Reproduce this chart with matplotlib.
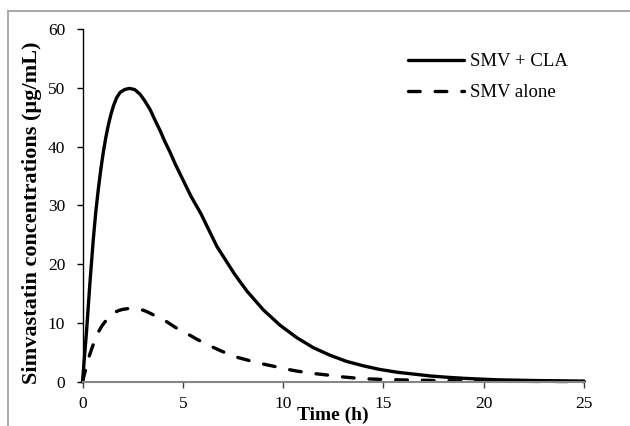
import matplotlib
matplotlib.use("Agg")
import matplotlib.pyplot as plt
from matplotlib.lines import Line2D

# Data
time_cla = [0, 0.1, 0.2, 0.37, 0.54, 0.66, 0.79, 0.92, 1.04, 1.16, 1.29, 1.42, 1.54, 1.7,
            1.87, 2.1, 2.34, 2.6, 2.87, 3.1, 3.37, 3.6, 3.87, 4.1, 4.37, 4.6, 4.87, 5.4,
            5.9, 6.3, 6.7, 7.15, 7.6, 8.2, 9.02, 9.85, 10.68, 11.5, 12.34, 13.17, 14.0,
            14.8, 15.7, 16.5, 17.35, 18.2, 19.0, 19.8, 20.7, 22.5, 25]
conc_cla = [0, 4.3, 8.5, 16.8, 24.3, 28.8, 32.8, 36.3, 39.1, 41.5, 43.7, 45.5, 46.9, 48.3,
            49.2, 49.7, 49.9, 49.7, 48.9, 47.8, 46.3, 44.6, 42.7, 40.9, 39.0, 37.2, 35.3, 31.6,
            28.6, 25.8, 23.0, 20.6, 18.2, 15.4, 12.2, 9.6, 7.5, 5.8, 4.5, 3.45, 2.7,
            2.1, 1.6, 1.3, 0.97, 0.75, 0.58, 0.45, 0.32, 0.2, 0.1]

time_alone = [0, 0.15, 0.3, 0.5, 0.65, 0.8, 0.95, 1.1, 1.35, 1.6, 1.8, 2.0, 2.4, 2.65, 2.9,
              3.15, 3.4, 3.8, 4.2, 4.6, 5.2, 5.77, 6.35, 6.93, 7.6, 8.2, 8.87, 9.5, 10.15,
              10.7, 11.5, 12.2, 12.85, 13.5, 14.2, 15.0, 16, 18, 20, 22.5, 25]
conc_alone = [0, 2.0, 4.0, 6.0, 7.3, 8.5, 9.4, 10.1, 11.1, 11.8, 12.1, 12.3, 12.5, 12.45, 12.3,
              12.0, 11.6, 10.9, 10.2, 9.3, 8.2, 7.1, 6.1, 5.2, 4.25, 3.7, 3.1, 2.65, 2.15,
              1.8, 1.4, 1.14, 0.85, 0.65, 0.48, 0.38, 0.3, 0.18, 0.1, 0.05, 0.03]

labels = ["SMV + CLA", "SMV alone"]
x_ticks = [0, 5, 10, 15, 20, 25]
y_ticks = [0, 10, 20, 30, 40, 50, 60]

plt.rcParams['font.family'] = ['Liberation Serif', 'DejaVu Serif']

W, H = 630, 426
fig = plt.figure(figsize=(W / 100, H / 100), dpi=100)
ax = fig.add_axes([82.5 / W, 1 - 381.7 / H, (584 - 82.5) / W, (381.7 - 29) / H])

lw = 2.4
ax.plot(time_cla, conc_cla, color='black', lw=lw, solid_capstyle='round',
        solid_joinstyle='round', label=labels[0], clip_on=False)
ax.plot(time_alone, conc_alone, color='black', lw=lw, dashes=(3.5, 4.5),
        dash_capstyle='round', dash_joinstyle='round', label=labels[1], clip_on=False)

ax.set_xlim(0, 25)
ax.set_ylim(0, 60)
ax.set_xticks(x_ticks)
ax.set_yticks(y_ticks)
ax.tick_params(axis='both', direction='out', length=4.5, width=1, labelsize=12.5)
ax.tick_params(axis='x', pad=6, color='#404040')
ax.tick_params(axis='y', pad=8, color='black')

for s in ['top', 'right']:
    ax.spines[s].set_visible(False)
ax.spines['bottom'].set_color('#868686')
ax.spines['bottom'].set_linewidth(1.5)
ax.spines['left'].set_color('black')
ax.spines['left'].set_linewidth(1)

ax.set_xlabel("Time (h)", fontsize=14, fontweight='bold', va='top')
ax.xaxis.set_label_coords(0.5, (381.7 - 407) / 352.7)
ax.set_ylabel("Simvastatin concentrations (µg/mL)", fontsize=16, fontweight='bold', va='center')
ax.yaxis.set_label_coords((32.5 - 82.5) / 501.5, (381.7 - 213) / 352.7)

leg = ax.legend(loc='upper left', bbox_to_anchor=((408 - 82.5) / 501.5, (381.7 - 53) / 352.7),
                frameon=False, fontsize=13.5, handlelength=3.0, handletextpad=0.3,
                labelspacing=0.75, borderpad=0, borderaxespad=0)

# outer border (top and left visible in the reference)
fig.add_artist(Line2D([8.3 / W, 1], [1 - 10.7 / H, 1 - 10.7 / H], color='#9a9a9a', lw=1.2,
                      transform=fig.transFigure))
fig.add_artist(Line2D([8.3 / W, 8.3 / W], [0, 1 - 10.7 / H], color='#9a9a9a', lw=1.2,
                      transform=fig.transFigure))

fig.savefig("out.png", dpi=100)
